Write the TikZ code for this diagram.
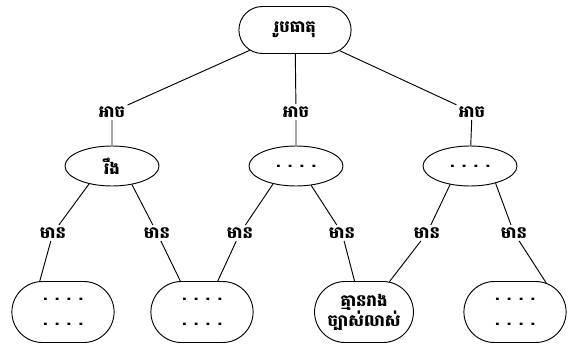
\documentclass[tikz,border=0pt]{standalone}
\usepackage{fontspec}
\newfontfamily\khmerfont[Script=Khmer]{Battambang}
\usetikzlibrary{shapes.misc, shapes.geometric}

\begin{document}
\begin{tikzpicture}[x=0.03cm, y=-0.03cm, font=\khmerfont\bfseries\fontsize{14}{17}\selectfont,
    pill/.style={draw, thick, rounded rectangle, minimum width=3.3cm, minimum height=1.83cm, align=center},
    oval/.style={draw, thick, ellipse, minimum width=2.82cm, minimum height=1.2cm},
    lab/.style={inner sep=2pt},
    link/.style={draw, thick}]
    \useasboundingbox (0,0) rectangle (569,345);

    % Top node
    \node[pill, minimum width=3.6cm, minimum height=1.41cm] (top) at (295,30) {រូបធាតុ};

    % Middle level
    \node[lab] (a1) at (112,112) {អាច};
    \node[lab] (a2) at (296,112) {អាច};
    \node[lab] (a3) at (472,112) {អាច};
    \node[oval] (e1) at (112,166) {រឹង};
    \node[oval] (e2) at (296,166) {. . . .};
    \node[oval] (e3) at (470,166) {. . . .};

    \draw[link] (top) -- (a1) -- (e1);
    \draw[link] (top) -- (a2) -- (e2);
    \draw[link] (top) -- (a3) -- (e3);

    % Bottom level
    \node[pill] (b1) at (63,312) {. . . .\\[4pt]. . . .};
    \node[pill] (b2) at (202,312) {. . . .\\[4pt]. . . .};
    \node[pill, minimum width=3.2cm] (b3) at (364,312) {គ្មានរាង\\ច្បាស់លាស់};
    \node[pill] (b4) at (515,312) {. . . .\\[4pt]. . . .};

    \node[lab] (m1) at (53,233) {មាន};
    \node[lab] (m2) at (157,233) {មាន};
    \node[lab] (m3) at (240,233) {មាន};
    \node[lab] (m4) at (342,233) {មាន};
    \node[lab] (m5) at (427,233) {មាន};
    \node[lab] (m6) at (514,233) {មាន};

    \draw[link] (e1.218) -- (m1) -- (b1.127);
    \draw[link] (e1.317) -- (m2) -- (b2.125);
    \draw[link] (e2.218) -- (m3) -- (b2.63);
    \draw[link] (e2.308) -- (m4) -- (b3.107);
    \draw[link] (e3.223) -- (m5) -- (b3.50);
    \draw[link] (e3.326) -- (m6) -- (b4.43);
\end{tikzpicture}
\end{document}
